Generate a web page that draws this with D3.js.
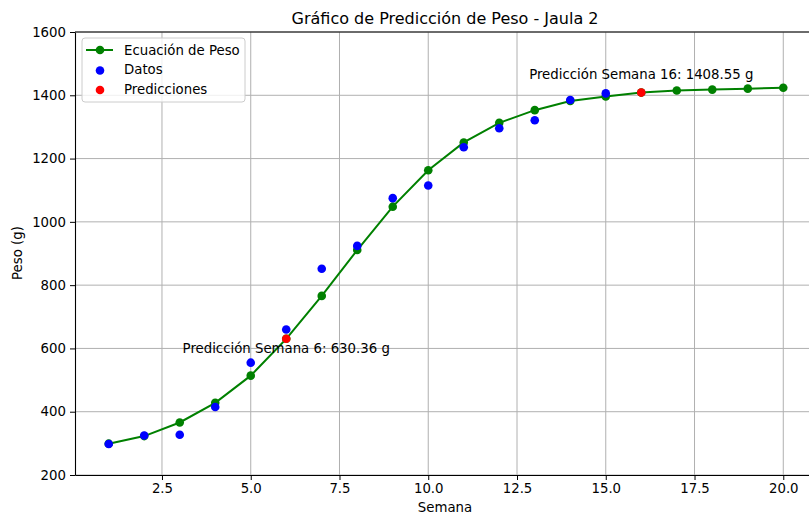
<!DOCTYPE html>
<html>
<head>
<meta charset="utf-8">
<script src="https://cdn.jsdelivr.net/npm/d3@7"></script>
<style>
  body { margin: 0; background: #fff; }
  svg { display: block; font-family: "DejaVu Sans", sans-serif; }
</style>
</head>
<body>
<div id="chart"></div>
<script>
// weeks for the fitted weight equation
const semanas = [1, 2, 3, 4, 5, 6, 7, 8, 9, 10, 11, 12, 13, 14, 15, 16, 17, 18, 19, 20];
const ecuacion = [299, 323, 366, 428, 514, 630.36, 766, 911, 1048, 1163,
                  1251, 1313, 1353, 1382, 1396, 1408.55, 1415, 1418, 1421, 1424];
// measured data
const semanasDatos = [1, 2, 3, 4, 5, 6, 7, 8, 9, 10, 11, 12, 13, 14, 15];
const datos = [298, 325, 327, 415, 555, 660, 852, 924, 1075, 1115, 1236, 1296, 1321, 1385, 1406];
// predictions
const semanasPred = [6, 16];
const predicciones = [630.36, 1408.55];
const etiquetasPred = ["Predicción Semana 6: 630.36 g", "Predicción Semana 16: 1408.55 g"];
const etiquetasPos = [586, 1450];   // y value where each label sits

const xTicks = [2.5, 5.0, 7.5, 10.0, 12.5, 15.0, 17.5, 20.0];
const yTicks = [200, 400, 600, 800, 1000, 1200, 1400, 1600];

const W = 809, H = 516;
const M = {top: 32, right: -8, bottom: 41, left: 75};
const FS = 13.3;

const svg = d3.select("#chart").append("svg")
    .attr("width", W).attr("height", H);

const x = d3.scaleLinear().domain([0.05, 20.95]).range([M.left, W - M.right]);
const y = d3.scaleLinear().domain([200, 1600]).range([H - M.bottom, M.top]);

// grid
svg.append("g").selectAll("line").data(xTicks).enter().append("line")
    .attr("x1", d => x(d)).attr("x2", d => x(d))
    .attr("y1", y(200)).attr("y2", y(1600))
    .attr("stroke", "#b0b0b0").attr("stroke-width", 1);
svg.append("g").selectAll("line").data(yTicks).enter().append("line")
    .attr("x1", x(0.05)).attr("x2", x(20.95))
    .attr("y1", d => y(d)).attr("y2", d => y(d))
    .attr("stroke", "#b0b0b0").attr("stroke-width", 1);

// axes
const xAxis = svg.append("g")
    .attr("transform", "translate(0," + y(200) + ")")
    .call(d3.axisBottom(x).tickValues(xTicks).tickFormat(d3.format(".1f")).tickSize(5).tickPadding(4).tickSizeOuter(0));
const yAxis = svg.append("g")
    .attr("transform", "translate(" + x(0.05) + ",0)")
    .call(d3.axisLeft(y).tickValues(yTicks).tickFormat(d3.format("d")).tickSize(5).tickPadding(4).tickSizeOuter(0));
[xAxis, yAxis].forEach(a => {
    a.selectAll("text").attr("font-size", FS).attr("font-family", "DejaVu Sans").attr("fill", "#000");
    a.selectAll("line").attr("stroke", "#000");
    a.select(".domain").attr("stroke", "#000").attr("stroke-width", 1.1);
});
// top spine
svg.append("line")
    .attr("x1", x(0.05)).attr("x2", x(20.95))
    .attr("y1", y(1600)).attr("y2", y(1600))
    .attr("stroke", "#000").attr("stroke-width", 1.1);

// equation line + markers
svg.append("path")
    .datum(semanas.map((s, i) => [s, ecuacion[i]]))
    .attr("fill", "none")
    .attr("stroke", "green")
    .attr("stroke-width", 2)
    .attr("d", d3.line().x(d => x(d[0])).y(d => y(d[1])));
svg.append("g").selectAll("circle").data(semanas).enter().append("circle")
    .attr("cx", d => x(d)).attr("cy", (d, i) => y(ecuacion[i]))
    .attr("r", 4.3).attr("fill", "green");

// data scatter
svg.append("g").selectAll("circle").data(semanasDatos).enter().append("circle")
    .attr("cx", d => x(d)).attr("cy", (d, i) => y(datos[i]))
    .attr("r", 4.3).attr("fill", "blue");

// predictions
svg.append("g").selectAll("circle").data(semanasPred).enter().append("circle")
    .attr("cx", d => x(d)).attr("cy", (d, i) => y(predicciones[i]))
    .attr("r", 4.3).attr("fill", "red");

svg.append("g").selectAll("text").data(semanasPred).enter().append("text")
    .attr("x", d => x(d)).attr("y", (d, i) => y(etiquetasPos[i]))
    .attr("text-anchor", "middle")
    .attr("font-size", FS).attr("fill", "#000")
    .text((d, i) => etiquetasPred[i]);

// title and labels
svg.append("text").attr("x", 445).attr("y", 24)
    .attr("text-anchor", "middle").attr("font-size", 16)
    .text("Gráfico de Predicción de Peso - Jaula 2");
svg.append("text").attr("x", 445).attr("y", 512)
    .attr("text-anchor", "middle").attr("font-size", FS)
    .text("Semana");
svg.append("text").attr("transform", "translate(22,253) rotate(-90)")
    .attr("text-anchor", "middle").attr("font-size", FS)
    .text("Peso (g)");

// legend
const lg = svg.append("g").attr("transform", "translate(82,38)");
lg.append("rect").attr("width", 163).attr("height", 64).attr("rx", 3)
    .attr("fill", "#fff").attr("fill-opacity", 0.8)
    .attr("stroke", "#cccccc").attr("stroke-width", 1);
const items = [
    {label: "Ecuación de Peso", color: "green", line: true},
    {label: "Datos", color: "blue", line: false},
    {label: "Predicciones", color: "red", line: false}
];
items.forEach((it, i) => {
    const yy = 12 + i * 19.5;
    if (it.line) {
        lg.append("line").attr("x1", 4).attr("x2", 31).attr("y1", yy).attr("y2", yy)
            .attr("stroke", it.color).attr("stroke-width", 2);
    }
    lg.append("circle").attr("cx", 18).attr("cy", it.line ? yy : yy + 1).attr("r", 4.3).attr("fill", it.color);
    lg.append("text").attr("x", 42).attr("y", yy + 4.5).attr("font-size", FS).text(it.label);
});
</script>
</body>
</html>
